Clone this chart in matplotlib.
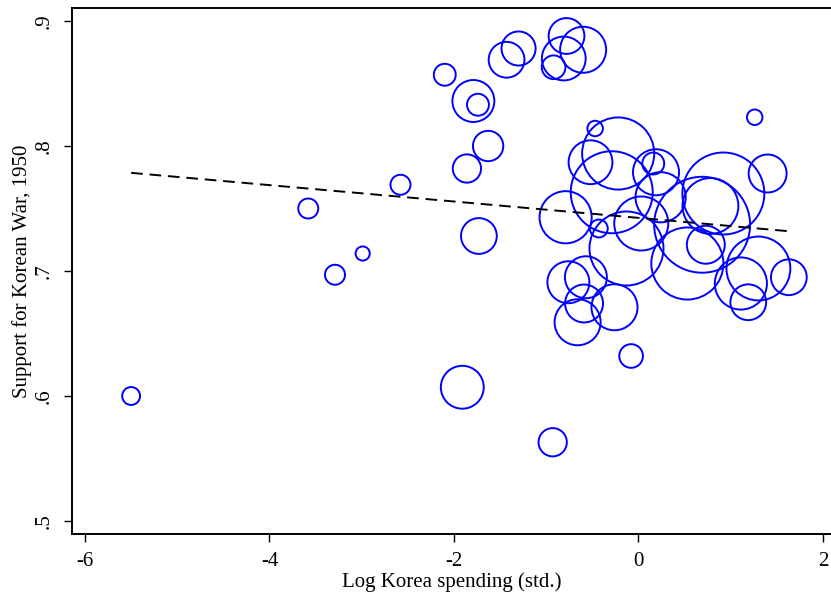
"""Support for the Korean War vs. log Korea spending, weighted scatter."""

import matplotlib
matplotlib.use("Agg")
import matplotlib.pyplot as plt
import numpy as np

plt.rcParams["font.family"] = ["Liberation Serif", "DejaVu Serif"]

# log Korea spending (std.), support share, relative weight (marker area)
spending = [
    -5.50, -3.58, -3.29, -2.99, -2.58, -2.10, -1.79, -1.74, -1.86, -1.63,
    -1.73, -1.91, -1.43, -1.30, -0.78, -0.81, -0.92, -0.60, -0.93,
    -0.47, -0.22, -0.52, -0.29, 0.16, 0.19, 0.24, -0.79, -0.43, 0.03,
    -0.13, 0.92, 0.78, 0.69, 1.26, 1.40, 0.53, 0.73, 1.30, 1.11,
    1.19, 1.63, -0.76, -0.57, -0.59, -0.66, -0.26, -0.08,
]
support = [
    0.600, 0.750, 0.697, 0.714, 0.769, 0.857, 0.836, 0.833, 0.782, 0.800,
    0.728, 0.607, 0.869, 0.878, 0.888, 0.870, 0.863, 0.877, 0.563,
    0.814, 0.794, 0.787, 0.763, 0.786, 0.779, 0.759, 0.743, 0.734, 0.738,
    0.718, 0.762, 0.752, 0.737, 0.823, 0.778, 0.706, 0.721, 0.702, 0.690,
    0.675, 0.695, 0.691, 0.695, 0.674, 0.659, 0.671, 0.632,
]
weight = [
    0.8, 1.0, 1.0, 0.5, 1.0, 1.2, 4.4, 1.2, 2.0, 2.3,
    3.2, 4.6, 3.2, 2.9, 3.2, 4.8, 1.4, 5.3, 2.0,
    0.6, 13.0, 4.8, 16.8, 1.2, 5.3, 6.3, 6.8, 0.8, 7.3,
    13.7, 16.8, 7.8, 23.0, 0.6, 3.6, 13.0, 3.6, 10.2, 6.8,
    3.2, 3.2, 4.4, 4.4, 3.6, 5.3, 5.3, 1.4,
]

# weighted linear fit drawn over the observed range
fit_intercept = 0.7425
fit_slope = -0.00655

x = np.array(spending)
y = np.array(support)
w = np.array(weight)

# marker radius (px) ~ 10 * sqrt(weight); scatter size is diameter in points squared
radius_px = 10 * np.sqrt(w)
sizes = (2 * radius_px * 0.72) ** 2

fig = plt.figure(figsize=(8.31, 5.97), dpi=100)
ax = fig.add_axes([72 / 831, 63 / 597, 759 / 831, 526 / 597])

ax.scatter(x, y, s=sizes, facecolors="none", edgecolors="#0000ff",
           linewidths=1.4, zorder=2)

xs = np.array([x.min(), x.max()])
ax.plot(xs, fit_intercept + fit_slope * xs, color="black", linestyle=(0, (6, 3.5)),
        linewidth=1.4, zorder=3)

ax.set_xlim(-6.141, 2.087)
ax.set_ylim(0.4896, 0.9104)
ax.set_xticks([-6, -4, -2, 0, 2])
ax.set_xticklabels(["-6", "-4", "-2", "0", "2"])
ax.set_yticks([0.5, 0.6, 0.7, 0.8, 0.9])
ax.set_yticklabels([".5", ".6", ".7", ".8", ".9"], rotation=90, va="center")

ax.tick_params(direction="out", length=6, width=1.0, labelsize=15, pad=7)
for side in ("left", "bottom", "top"):
    ax.spines[side].set_linewidth(1.4)
ax.spines["right"].set_visible(False)

ax.set_xlabel("Log Korea spending (std.)", fontsize=15, labelpad=1)
ax.set_ylabel("Support for Korean War, 1950", fontsize=15, labelpad=2)

fig.savefig("out.png", dpi=100)
